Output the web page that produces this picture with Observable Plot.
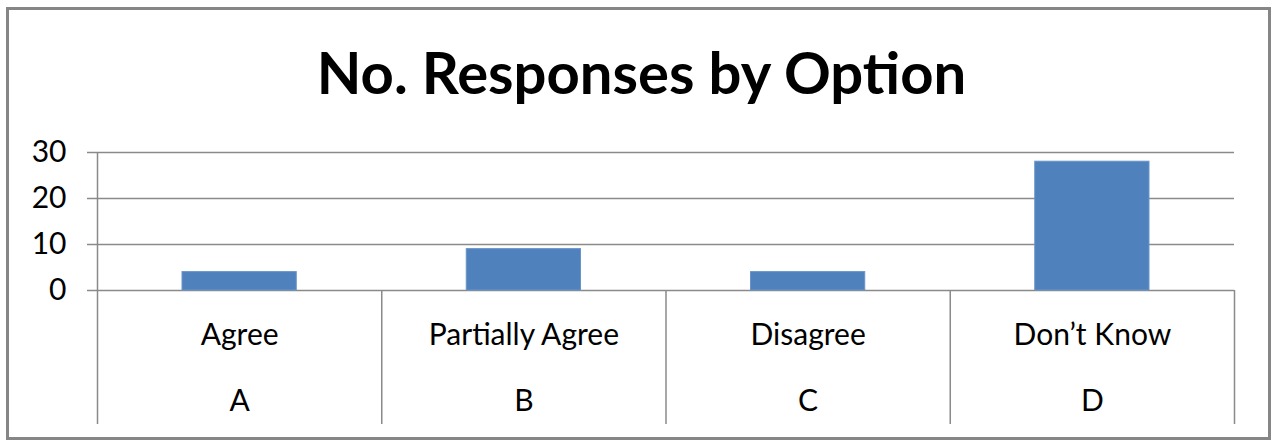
<!DOCTYPE html>
<html><head><meta charset="utf-8">
<script src="https://cdn.jsdelivr.net/npm/d3@7"></script>
<script src="https://cdn.jsdelivr.net/npm/@observablehq/plot@0.6"></script>
<style>html,body{margin:0;padding:0;background:#fff} svg{display:block}</style>
</head><body><div id="chart"></div>
<script>
const title = "No. Responses by Option";
const categories = ["Agree", "Partially Agree", "Disagree", "Don’t Know"];
const codes = ["A", "B", "C", "D"];
const responses = [4, 9, 4, 28];
const yTicks = [0, 10, 20, 30];

const data = categories.map((c, i) => ({i, label: c, code: codes[i], value: responses[i]}));
const edges = d3.range(categories.length + 1);
const lineColor = "#8a8a8a";

const chart = Plot.plot({
  width: 1271, height: 441,
  marginLeft: 97, marginRight: 37, marginTop: 152, marginBottom: 151,
  style: {fontFamily: "Lato, 'Open Sans', sans-serif", background: "#fff", color: "#000", overflow: "visible"},
  x: {domain: [0, categories.length], axis: null, label: null},
  y: {domain: [0, 30], axis: null, label: null},
  marks: [
    Plot.frame({stroke: "#868686", strokeWidth: 3, insetLeft: -90, insetTop: -144, insetRight: -35, insetBottom: -148}),
    Plot.ruleY(yTicks, {stroke: lineColor, strokeWidth: 1.5, insetLeft: -10}),
    Plot.ruleX(edges.slice(0, 1), {stroke: lineColor, strokeWidth: 1.5, insetBottom: -134}),
    Plot.ruleX(edges.slice(1), {y1: 0, stroke: lineColor, strokeWidth: 1.5, insetBottom: -134}),
    Plot.rectY(data, {x1: "i", x2: d => d.i + 1, y: "value", insetLeft: 85, insetRight: 85, fill: "#4F81BD", stroke: "#6a94c8", strokeWidth: 1}),
    Plot.axisY({ticks: yTicks, tickSize: 0, tickPadding: 31, fontSize: 30, tickFormat: d => d, label: null}),
    Plot.text(data, {x: d => d.i + 0.5, text: "label", frameAnchor: "bottom", lineAnchor: "middle", dy: 44.4, fontSize: 30, fill: "#000"}),
    Plot.text(data, {x: d => d.i + 0.5, text: "code", frameAnchor: "bottom", lineAnchor: "middle", dy: 111.1, fontSize: 30, fill: "#000"}),
    Plot.text([title], {text: d => d, frameAnchor: "top", lineAnchor: "middle", dx: -24.5, dy: -77.3, fontSize: 58, fontWeight: "bold", fill: "#000"})
  ]
});
document.getElementById("chart").appendChild(chart);
</script>
</body></html>
